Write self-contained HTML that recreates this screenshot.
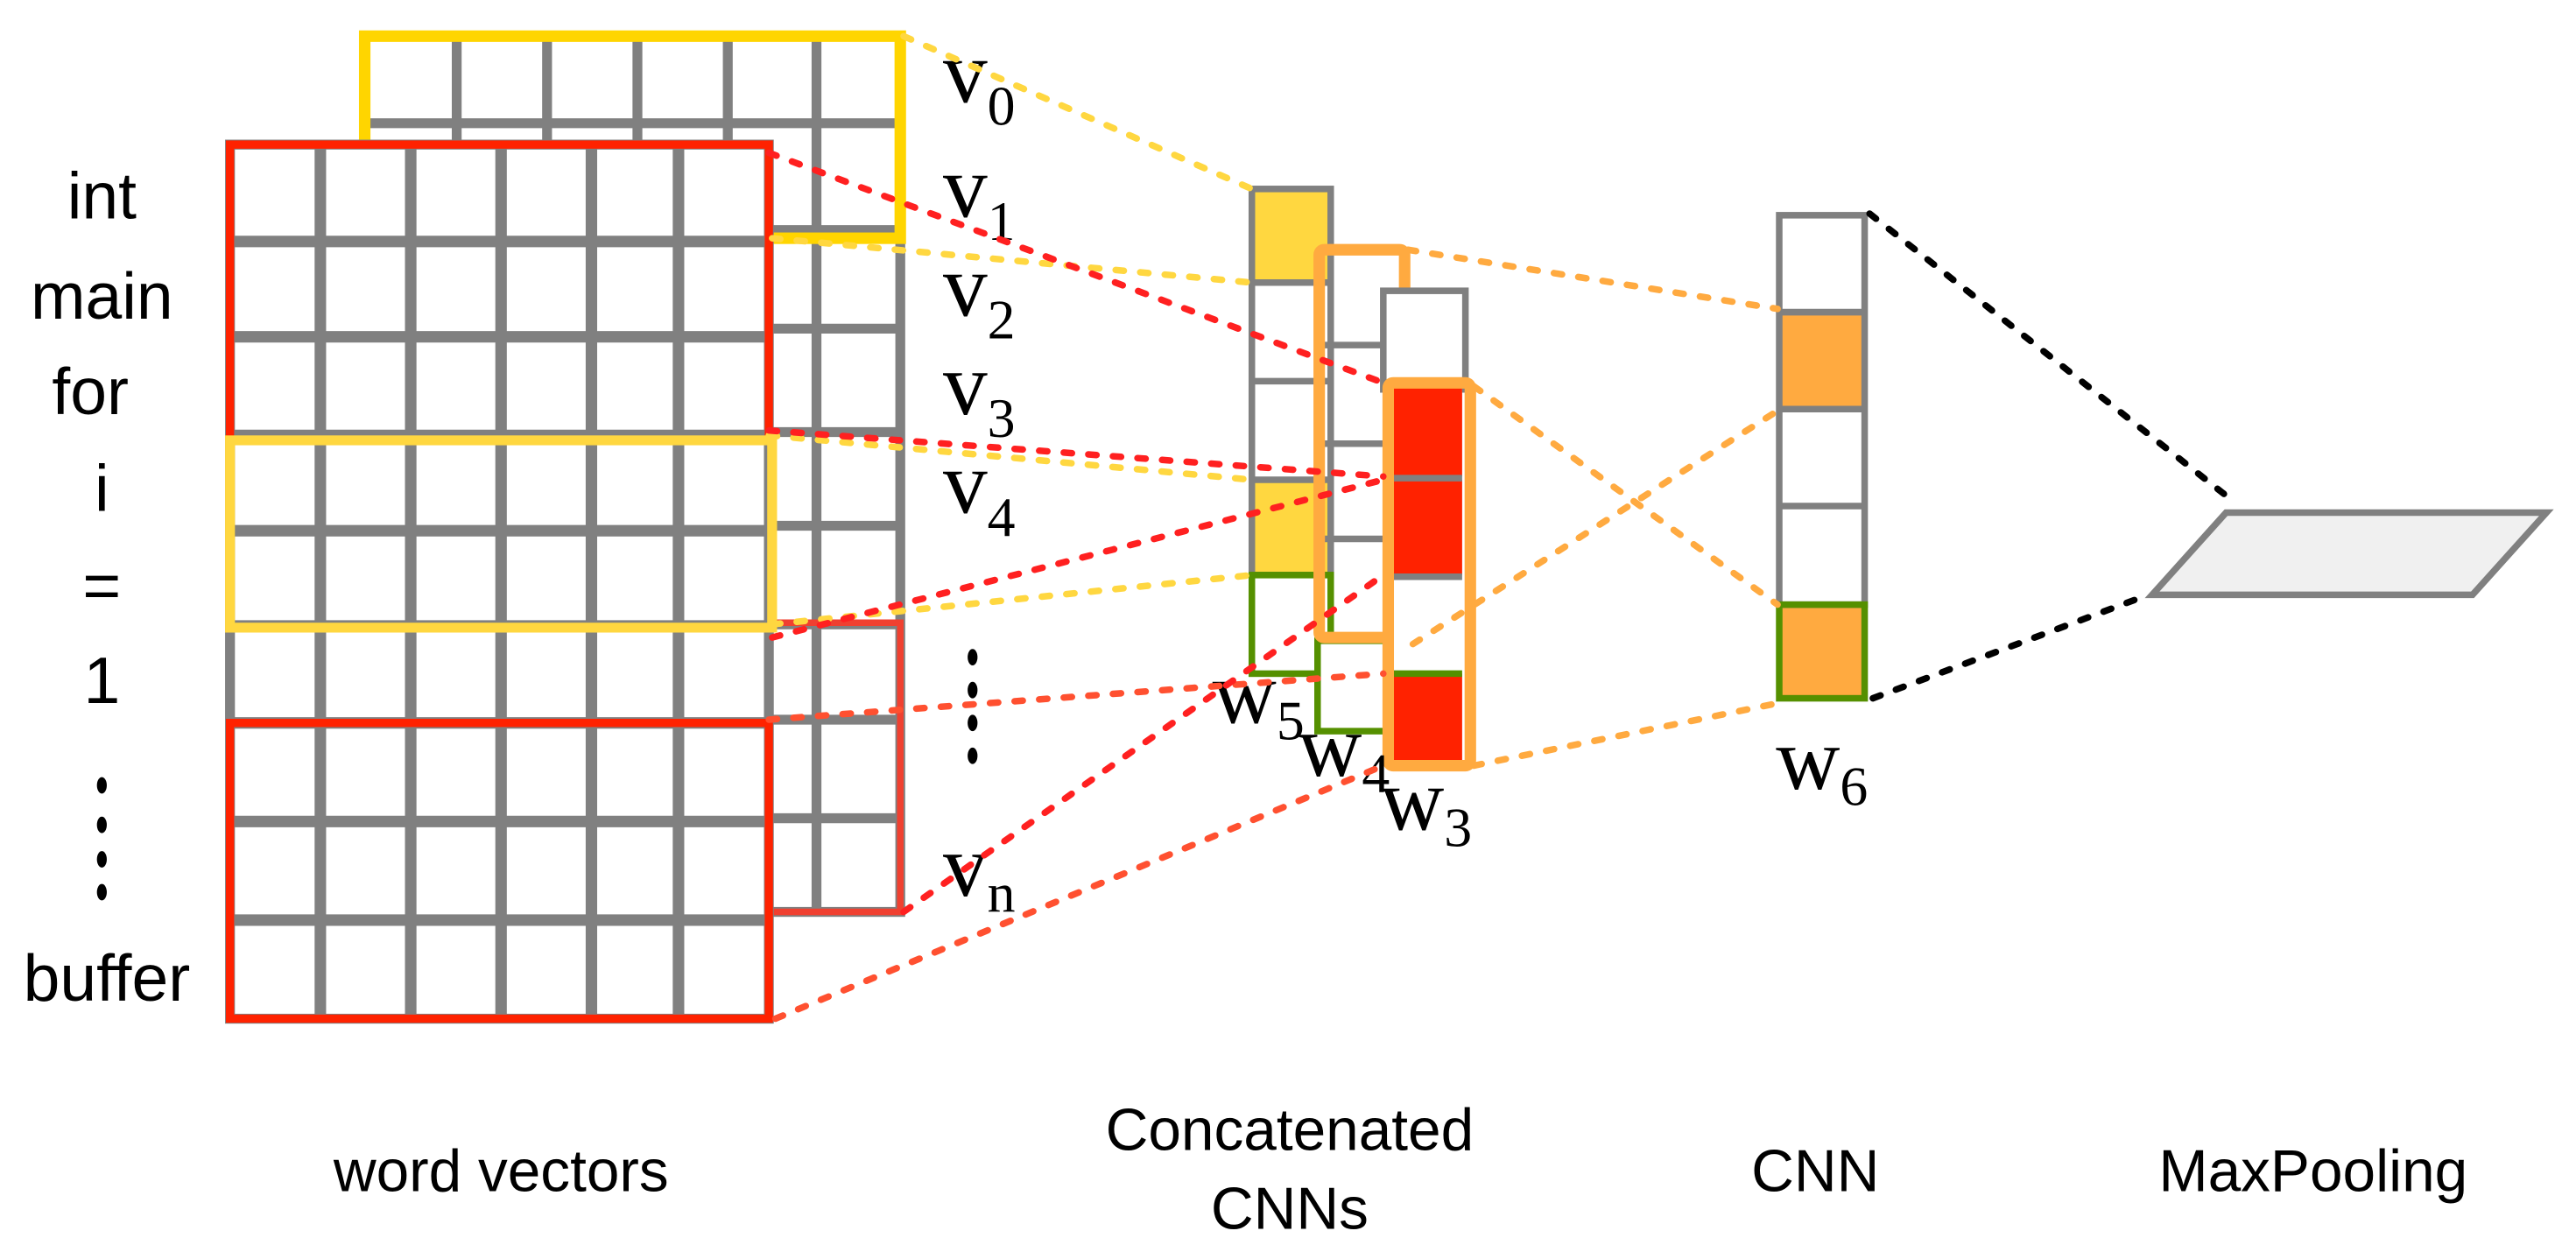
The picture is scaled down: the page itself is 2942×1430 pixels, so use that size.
<!DOCTYPE html>
<html><head><meta charset="utf-8"><style>
html,body{margin:0;padding:0;background:#fff;}
svg{display:block;}
.s{font-family:"Liberation Sans",sans-serif;font-size:40px;fill:#000;}
.v{font-family:"Liberation Serif",serif;font-size:54px;fill:#000;}
.sub{font-size:34px;}
</style></head><body>
<svg width="2942" height="1430" viewBox="0 0 1568 762" preserveAspectRatio="none" xmlns="http://www.w3.org/2000/svg">
<rect width="1568" height="762" fill="#fff"/>
<g stroke="#808080" stroke-width="6" fill="#fff">
<rect x="222" y="22" width="326" height="533"/>
</g>
<g stroke="#808080" stroke-width="6">
<line x1="278" y1="22" x2="278" y2="90"/><line x1="333" y1="22" x2="333" y2="90"/>
<line x1="388" y1="22" x2="388" y2="90"/><line x1="443" y1="22" x2="443" y2="90"/>
<line x1="497" y1="22" x2="497" y2="555"/>
<line x1="222" y1="75" x2="548" y2="75"/>
<line x1="468" y1="140" x2="548" y2="140"/><line x1="468" y1="200" x2="548" y2="200"/>
<line x1="468" y1="263" x2="548" y2="263"/><line x1="468" y1="320" x2="548" y2="320"/>
<line x1="468" y1="380" x2="548" y2="380"/><line x1="468" y1="438" x2="548" y2="438"/>
<line x1="468" y1="498" x2="548" y2="498"/>
</g>
<rect x="222" y="22" width="326" height="123" fill="none" stroke="#ffd500" stroke-width="7"/>
<rect x="466" y="379" width="82" height="176" fill="none" stroke="#f04030" stroke-width="4"/>
<rect x="140" y="88" width="328" height="532" fill="#fff" stroke="#808080" stroke-width="6"/>
<g stroke="#808080" stroke-width="7">
<line x1="195" y1="88" x2="195" y2="620"/><line x1="250" y1="88" x2="250" y2="620"/>
<line x1="305" y1="88" x2="305" y2="620"/><line x1="360" y1="88" x2="360" y2="620"/>
<line x1="413" y1="88" x2="413" y2="620"/>
<line x1="140" y1="147" x2="468" y2="147"/><line x1="140" y1="205" x2="468" y2="205"/>
<line x1="140" y1="265" x2="468" y2="265"/><line x1="140" y1="323" x2="468" y2="323"/>
<line x1="140" y1="381" x2="468" y2="381"/><line x1="140" y1="440" x2="468" y2="440"/>
<line x1="140" y1="500" x2="468" y2="500"/><line x1="140" y1="560" x2="468" y2="560"/>
</g>
<rect x="140" y="88" width="328" height="180" fill="none" stroke="#ff2200" stroke-width="5"/>
<rect x="140" y="268" width="330" height="114" fill="none" stroke="#ffd740" stroke-width="6"/>
<rect x="140" y="440" width="328" height="180" fill="none" stroke="#ff2200" stroke-width="5"/>
<g class="s" text-anchor="middle">
<text x="62" y="133">int</text><text x="62" y="194">main</text><text x="55" y="252">for</text>
<text x="62" y="311">i</text><text x="62" y="370">=</text><text x="62" y="428">1</text>
<text x="65" y="609">buffer</text>
</g>
<g fill="#000"><ellipse cx="62" cy="478" rx="3" ry="5"/><ellipse cx="62" cy="502" rx="3" ry="5"/><ellipse cx="62" cy="523" rx="3" ry="5"/><ellipse cx="62" cy="543" rx="3" ry="5"/>
<ellipse cx="592" cy="400" rx="3" ry="5"/><ellipse cx="592" cy="420" rx="3" ry="5"/><ellipse cx="592" cy="440" rx="3" ry="5"/><ellipse cx="592" cy="460" rx="3" ry="5"/></g>
<g class="v">
<text x="574" y="62">v<tspan class="sub" dy="14">0</tspan></text>
<text x="574" y="132">v<tspan class="sub" dy="14">1</tspan></text>
<text x="574" y="192">v<tspan class="sub" dy="14">2</tspan></text>
<text x="574" y="252">v<tspan class="sub" dy="14">3</tspan></text>
<text x="574" y="312">v<tspan class="sub" dy="14">4</tspan></text>
<text x="574" y="545">v<tspan class="sub" dy="10">n</tspan></text>
</g>
<rect x="762" y="115" width="48" height="57" fill="#ffd740"/>
<rect x="762" y="292" width="48" height="58" fill="#ffd740"/>
<g fill="none" stroke="#808080" stroke-width="4">
<rect x="762" y="115" width="48" height="235"/>
<line x1="762" y1="172" x2="810" y2="172"/><line x1="762" y1="232" x2="810" y2="232"/><line x1="762" y1="292" x2="810" y2="292"/>
</g>
<rect x="762" y="350" width="48" height="60" fill="#fff" stroke="#559000" stroke-width="4"/>
<rect x="802" y="390" width="45" height="55" fill="#fff" stroke="#559000" stroke-width="4"/>
<g stroke="#808080" stroke-width="4"><line x1="803" y1="210" x2="845" y2="210"/><line x1="803" y1="270" x2="845" y2="270"/><line x1="803" y1="328" x2="845" y2="328"/></g>
<rect x="803" y="152" width="52" height="236" fill="none" stroke="#ffaa40" stroke-width="7" rx="3"/>
<rect x="842" y="177" width="50" height="60" fill="#fff" stroke="#808080" stroke-width="4"/>
<rect x="848" y="235" width="42" height="230" fill="#fff"/>
<rect x="848" y="235" width="42" height="55" fill="#ff2200"/>
<rect x="848" y="292" width="42" height="58" fill="#ff2200"/>
<rect x="848" y="410" width="42" height="55" fill="#ff2200"/>
<g stroke="#808080" stroke-width="4"><line x1="848" y1="291" x2="890" y2="291"/><line x1="848" y1="351" x2="890" y2="351"/></g>
<line x1="848" y1="410" x2="890" y2="410" stroke="#559000" stroke-width="4"/>
<rect x="845" y="233" width="50" height="233" fill="none" stroke="#ffaa40" stroke-width="7" rx="3"/>
<g class="v">
<text x="738" y="440">w<tspan class="sub" dy="10">5</tspan></text>
<text x="790" y="472">w<tspan class="sub" dy="10">4</tspan></text>
<text x="840" y="505">w<tspan class="sub" dy="10">3</tspan></text>
<text x="1081" y="480">w<tspan class="sub" dy="10">6</tspan></text>
</g>
<rect x="1084" y="190" width="50" height="58" fill="#ffaa40"/>
<rect x="1084" y="368" width="50" height="57" fill="#ffaa40"/>
<g fill="none" stroke="#808080" stroke-width="4">
<rect x="1083" y="131" width="52" height="237"/>
<line x1="1083" y1="190" x2="1135" y2="190"/><line x1="1083" y1="249" x2="1135" y2="249"/><line x1="1083" y1="308" x2="1135" y2="308"/>
</g>
<rect x="1083" y="368" width="52" height="57" fill="none" stroke="#559000" stroke-width="4"/>
<polygon points="1355,312 1550,312 1505,362 1310,362" fill="#f0f0f0" stroke="#808080" stroke-width="4"/>
<g fill="none" stroke-width="4" stroke-linecap="round" stroke-dasharray="5,10">
<line x1="550" y1="22" x2="762" y2="115" stroke="#ffd740"/>
<line x1="470" y1="145" x2="762" y2="172" stroke="#ffd740"/>
<line x1="468" y1="93" x2="842" y2="233" stroke="#ff2020"/>
<line x1="468" y1="265" x2="762" y2="292" stroke="#ffd740"/>
<line x1="468" y1="262" x2="842" y2="290" stroke="#ff2020"/>
<line x1="470" y1="380" x2="762" y2="350" stroke="#ffd740"/>
<line x1="470" y1="388" x2="842" y2="292" stroke="#ff2020"/>
<line x1="468" y1="438" x2="842" y2="410" stroke="#ff5030"/>
<line x1="550" y1="555" x2="842" y2="350" stroke="#ff2020"/>
<line x1="472" y1="620" x2="842" y2="466" stroke="#ff5030"/>
<line x1="857" y1="152" x2="1082" y2="188" stroke="#ffaa40"/>
<line x1="897" y1="235" x2="1082" y2="368" stroke="#ffaa40"/>
<line x1="860" y1="392" x2="1082" y2="250" stroke="#ffaa40"/>
<line x1="897" y1="466" x2="1082" y2="428" stroke="#ffaa40"/>
<line x1="1138" y1="130" x2="1358" y2="304" stroke="#000"/>
<line x1="1140" y1="425" x2="1305" y2="363" stroke="#000"/>
</g>
<g class="s" text-anchor="middle" style="font-size:36px">
<text x="305" y="725">word vectors</text>
<text x="785" y="700">Concatenated</text>
<text x="785" y="748">CNNs</text>
<text x="1105" y="725">CNN</text>
<text x="1408" y="725">MaxPooling</text>
</g>
</svg>
</body></html>
